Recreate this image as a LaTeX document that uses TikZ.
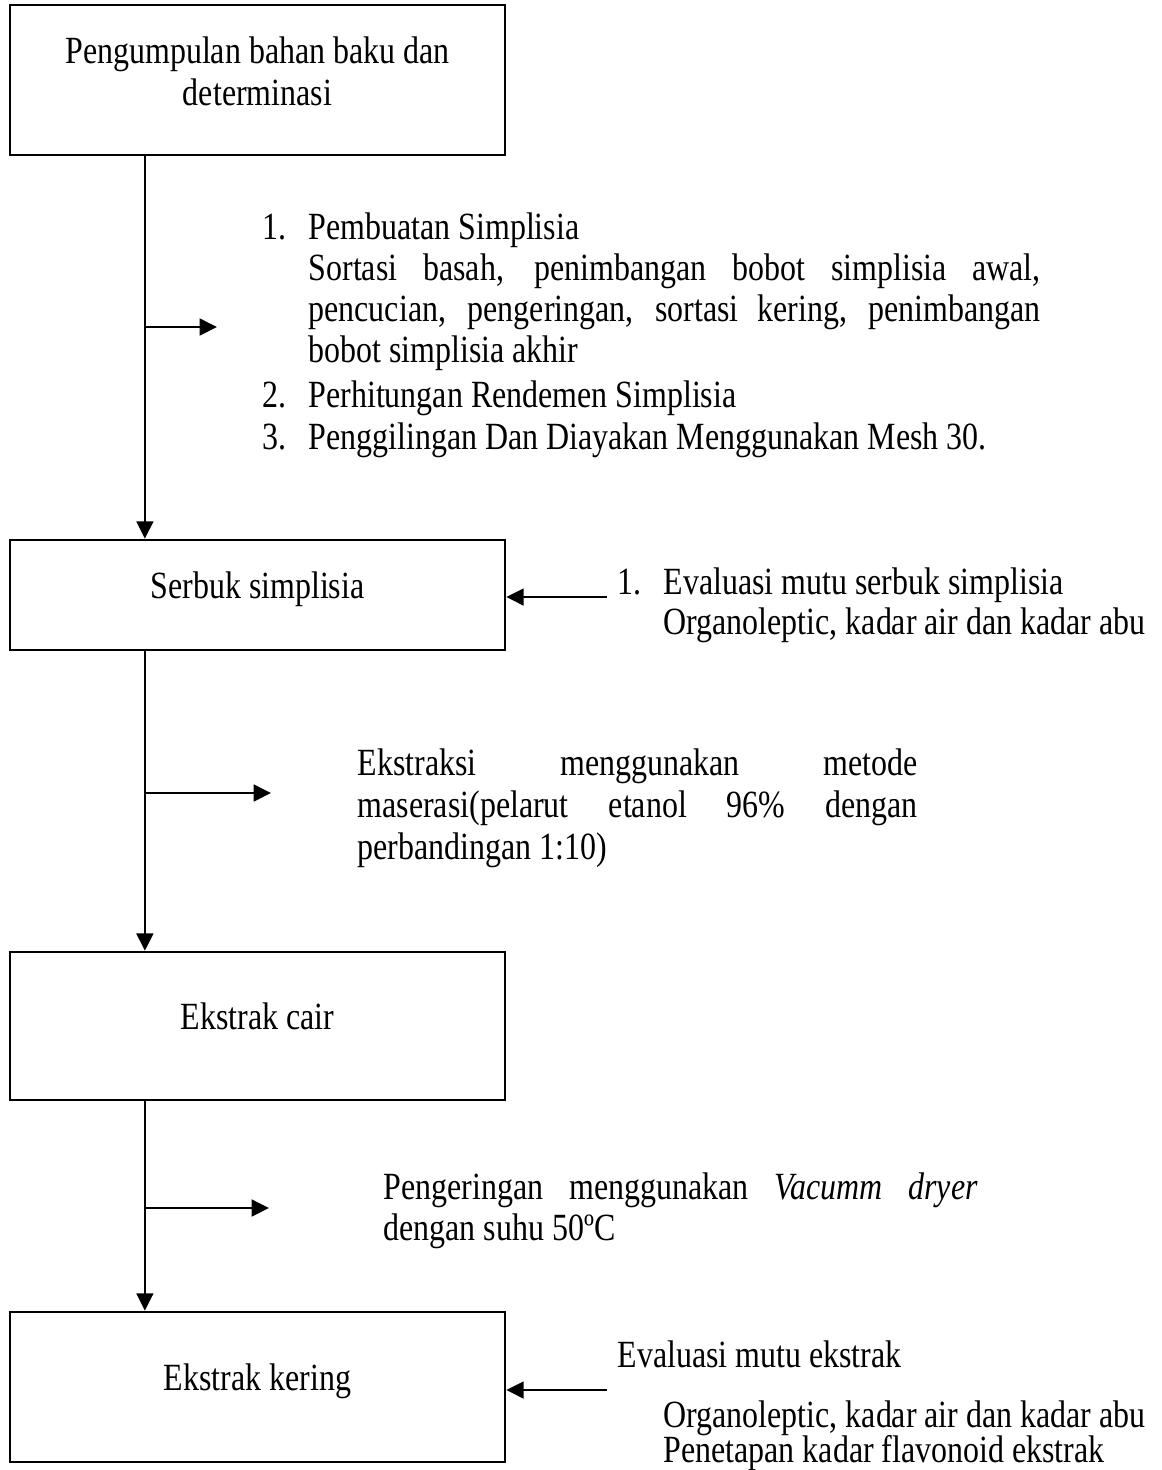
\documentclass[tikz,border=0pt]{standalone}
\usepackage{fontspec}
\setmainfont{Liberation Serif}[FakeStretch=0.83]
\usepackage{tikz}
\usetikzlibrary{arrows.meta}
\tikzset{every edge/.style={draw, line width=0.8pt}}
\tikzset{>={Triangle[length=5.4pt,width=5.2pt]}}
\tikzset{every node/.style={inner sep=0pt, font=\fontsize{12}{12.8}\selectfont}}
\tikzset{stepbox/.style={draw, line width=0.8pt, minimum width=154.3pt, text height=5pt, text depth=3pt}}
\tikzset{para/.style={anchor=base west, align=justify}}

\begin{document}
\begin{tikzpicture}[x=0.3117pt, y=-0.3117pt]       % alur penelitian
    \path[use as bounding box] (0, 0) rectangle (1162, 1470);

    \node[stepbox, minimum height=46.8pt, align=center, text height=16.6pt, text depth=1pt] at (257.5, 80) (bahan) {Pengumpulan bahan baku dan\\ determinasi};
    \node[stepbox, minimum height=34.3pt] at (257.5, 595) (serbuk) {Serbuk simplisia};
    \node[stepbox, minimum height=46.1pt] at (257.5, 1026) (cair) {Ekstrak cair};
    \node[stepbox, minimum height=46.8pt] at (257.5, 1387) (kering) {Ekstrak kering};

    \draw ([xshift=-35.1pt]bahan.south) edge[->] ([xshift=-35.1pt]serbuk.north);
    \draw ([xshift=-35.1pt]serbuk.south) edge[->] ([xshift=-35.1pt]cair.north);
    \draw ([xshift=-35.1pt]cair.south) edge[->] ([xshift=-35.1pt]kering.north);

    % cabang ke kanan
    \coordinate (cabang1) at (145, 327);
    \coordinate (ujung1) at (217, 327);
    \coordinate (cabang2) at (145, 793);
    \coordinate (ujung2) at (271, 793);
    \coordinate (cabang3) at (145, 1208);
    \coordinate (ujung3) at (269, 1208);
    \draw (cabang1) edge[->] (ujung1);
    \draw (cabang2) edge[->] (ujung2);
    \draw (cabang3) edge[->] (ujung3);

    % masuk dari kanan
    \coordinate (mutu1) at (607, 597);
    \coordinate (mutu2) at (607, 1390);
    \draw (mutu1) edge[->] (mutu1 -| serbuk.east);
    \draw (mutu2) edge[->] (mutu2 -| kering.east);

    \node[anchor=base west] at (262, 239) (no1) {1.};
    \node[para, text width=228.2pt] at (308, 239) (simplisia) {Pembuatan Simplisia\\ Sortasi basah, penimbangan bobot simplisia awal,\linebreak pencucian, pengeringan, sortasi kering, penimbangan\linebreak bobot simplisia akhir};
    \node[anchor=base west] at (262, 407.5) (no2) {2.};
    \node[anchor=base west] at (308, 407.5) (rendemen) {Perhitungan Rendemen Simplisia};
    \node[anchor=base west] at (262, 449.5) (no3) {3.};
    \node[anchor=base west] at (308, 449.5) (giling) {Penggilingan Dan Diayakan Menggunakan Mesh 30.};

    \node[anchor=base west] at (617, 594.5) (no4) {1.};
    \node[anchor=base west] at (663, 594.5) (evserbuk) {Evaluasi mutu serbuk simplisia};
    \node[anchor=base west] at (663, 634.5) (organo1) {Organoleptic, kadar air dan kadar abu};

    \node[para, text width=174.6pt, font=\fontsize{12}{13.1}\selectfont] at (357, 775) (maserasi) {Ekstraksi menggunakan metode\linebreak maserasi(pelarut etanol 96\% dengan\linebreak perbandingan 1:10)};

    \node[para, text width=185.2pt] at (383, 1199.5) (vakum) {Pengeringan menggunakan \textit{Vacumm dryer}\linebreak dengan suhu 50ºC};

    \node[anchor=base west] at (617, 1367.5) (evekstrak) {Evaluasi mutu ekstrak};
    \node[anchor=base west] at (663, 1427.5) (organo2) {Organoleptic, kadar air dan kadar abu};
    \node[anchor=base west] at (663, 1462) (flavonoid) {Penetapan kadar flavonoid ekstrak};
\end{tikzpicture}
\end{document}
